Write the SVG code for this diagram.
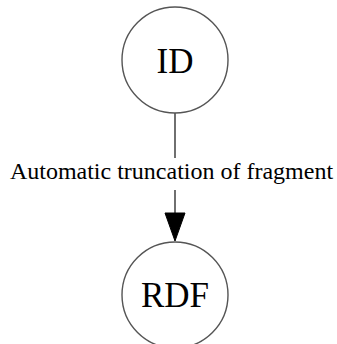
<svg xmlns="http://www.w3.org/2000/svg" width="337" height="344" viewBox="0 0 337 344">
<style>
.node circle{fill:#fff;stroke:#555;stroke-width:1.4}
.node text{font-family:"Liberation Serif",serif;font-size:35px;fill:#000;text-anchor:middle}
.edge line{stroke:#333;stroke-width:1.4}
.edge polygon{fill:#000;stroke:#000}
.lbl{font-family:"Liberation Serif",serif;font-size:24px;fill:#000;text-anchor:middle}
</style>
<rect width="337" height="344" fill="#fff"/>
<g id="connectors" class="edge">
<line x1="175" y1="113" x2="175" y2="158"/>
<line x1="175" y1="190" x2="175" y2="214"/>
<polygon points="165,213 185,213 175,241"/>
<text class="lbl" x="171.5" y="179">Automatic truncation of fragment</text>
</g>
<g id="node-ID" class="node">
<circle cx="175" cy="60" r="53"/>
<text x="175" y="73">ID</text>
</g>
<g id="node-RDF" class="node">
<circle cx="175" cy="295" r="53"/>
<text x="175" y="307">RDF</text>
</g>
</svg>
